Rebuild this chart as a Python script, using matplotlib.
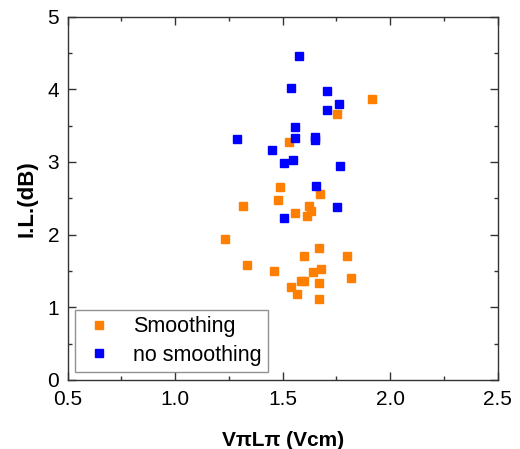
import matplotlib
matplotlib.use('Agg')
import matplotlib.pyplot as plt
from matplotlib.ticker import MultipleLocator, FormatStrFormatter

plt.rcParams['font.family'] = ['Liberation Sans', 'DejaVu Sans']

# Smoothing
smooth_x = [1.914, 1.751, 1.531, 1.488, 1.675, 1.480, 1.314, 1.621, 1.633, 1.556, 1.615,
            1.232, 1.671, 1.601, 1.799, 1.336, 1.678, 1.458, 1.643, 1.818, 1.599, 1.585,
            1.671, 1.540, 1.567, 1.671]
smooth_y = [3.87, 3.66, 3.28, 2.65, 2.56, 2.48, 2.40, 2.39, 2.33, 2.30, 2.26,
            1.94, 1.81, 1.70, 1.70, 1.58, 1.53, 1.50, 1.48, 1.40, 1.36, 1.36,
            1.34, 1.28, 1.18, 1.11]

# no smoothing
nosmooth_x = [1.574, 1.539, 1.708, 1.760, 1.705, 1.557, 1.289, 1.557, 1.650, 1.652,
              1.449, 1.550, 1.508, 1.767, 1.655, 1.753, 1.508]
nosmooth_y = [4.46, 4.02, 3.98, 3.80, 3.72, 3.48, 3.31, 3.33, 3.34, 3.30,
              3.16, 3.03, 2.99, 2.94, 2.67, 2.38, 2.23]

fig = plt.figure(figsize=(5.2, 4.49), dpi=100)
ax = fig.add_axes([0.130, 0.1537, 0.827, 0.8093])

ax.plot(smooth_x, smooth_y, 's', color='#ff7f00', markersize=5.5, label='Smoothing')
ax.plot(nosmooth_x, nosmooth_y, 's', color='#0000ff', markersize=5.5, label='no smoothing')

ax.set_xlim(0.5, 2.5)
ax.set_ylim(0, 5)
ax.xaxis.set_major_locator(MultipleLocator(0.5))
ax.xaxis.set_minor_locator(MultipleLocator(0.25))
ax.yaxis.set_major_locator(MultipleLocator(1))
ax.yaxis.set_minor_locator(MultipleLocator(0.5))
ax.xaxis.set_major_formatter(FormatStrFormatter('%.1f'))
ax.tick_params(which='both', direction='in', top=True, right=True, labelsize=15, color='#333333')
ax.tick_params(axis='x', which='major', pad=7)
ax.tick_params(axis='y', which='major', pad=6)
ax.tick_params(which='major', length=6, width=1)
ax.tick_params(which='minor', length=3, width=1)
for s in ax.spines.values():
    s.set_linewidth(1.0)
    s.set_color('#333333')

ax.set_xlabel('VπLπ (Vcm)', fontsize=15, fontweight='bold', labelpad=16)
ax.set_ylabel('I.L.(dB)', fontsize=16, fontweight='bold', labelpad=7)

leg = ax.legend(loc='lower left', fontsize=15.5, fancybox=False, edgecolor='#777777',
                handletextpad=0.8, borderaxespad=0.35, handlelength=1.6,
                borderpad=0.3, labelspacing=0.35)
leg.get_frame().set_linewidth(1.0)

fig.savefig('out.png', dpi=100)
